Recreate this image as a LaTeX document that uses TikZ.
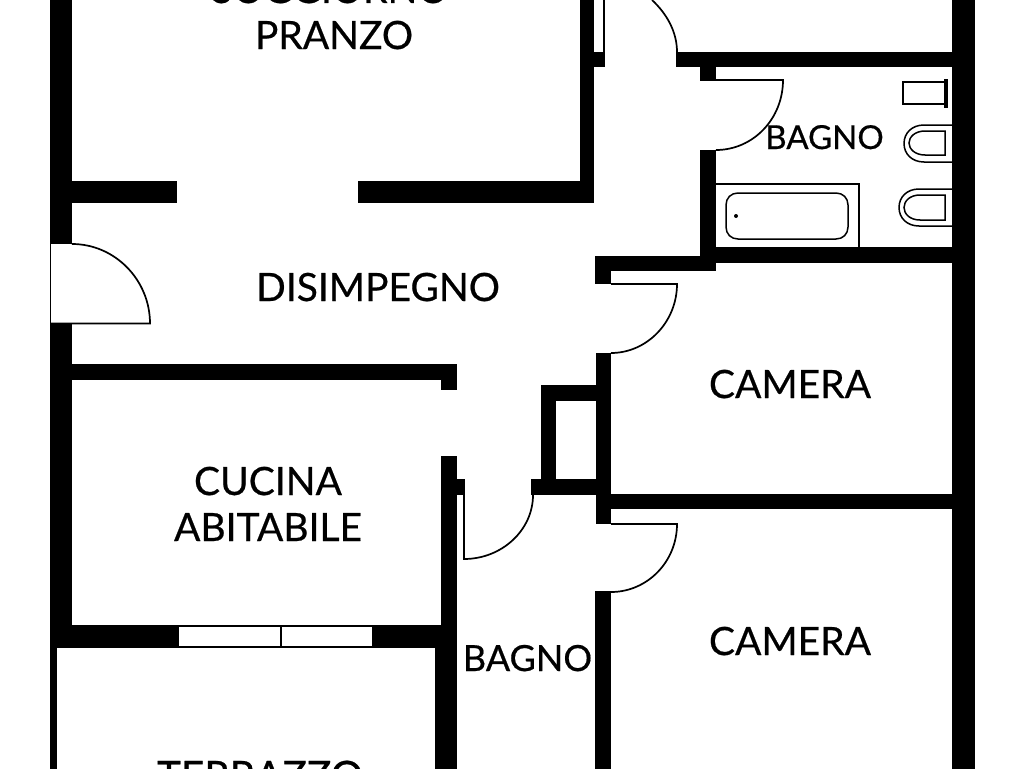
\documentclass[tikz,border=0pt]{standalone}
\usepackage{fontspec}
\setmainfont{Lato}[FakeBold=0.5]
\tikzset{
  wall/.style={fill=black,draw=none},
  thin line/.style={draw=black,line width=1.5pt,fill=none},
  door/.style={draw=black,line width=1.7pt,fill=none},
  label/.style={anchor=base,inner sep=0pt,font=\fontsize{39}{39}\selectfont},
  small label/.style={anchor=base,inner sep=0pt,font=\fontsize{33}{33}\selectfont},
}
\begin{document}
\begin{tikzpicture}[x=1pt,y=-1pt]
\useasboundingbox (0,0) rectangle (1024,768);
\clip (0,0) rectangle (1024,768);
\fill[white] (0,0) rectangle (1024,768);
% walls
\fill[wall] (50,0) rectangle (72,244);
\fill[wall] (50,324) rectangle (72,648);
\fill[wall] (49.5,648) rectangle (57,770);
\fill[wall] (72,181) rectangle (177,203);
\fill[wall] (358,181) rectangle (594,203);
\fill[wall] (580,0) rectangle (594,203);
\fill[wall] (594,52) rectangle (605,67);
\fill[wall] (676,52) rectangle (952,67);
\fill[wall] (952,0) rectangle (975,770);
\fill[wall] (700,67) rectangle (716,80);
\fill[wall] (700,150) rectangle (716,271);
\fill[wall] (716,247) rectangle (952,263);
\fill[wall] (595,256) rectangle (716,271);
\fill[wall] (595,256) rectangle (611,284);
\fill[wall] (596,353) rectangle (611,524);
\fill[wall] (611,494) rectangle (952,509);
\fill[wall] (595,591) rectangle (611,770);
\fill[wall] (541,385) rectangle (596,400.5);
\fill[wall] (541,385) rectangle (556,480);
\fill[wall] (531,479) rectangle (596,495);
\fill[wall] (72,364) rectangle (457,380);
\fill[wall] (441,364) rectangle (457,390);
\fill[wall] (441,456) rectangle (457,770);
\fill[wall] (435,648) rectangle (457,770);
\fill[wall] (457,479) rectangle (465,495);
\fill[wall] (50,625) rectangle (178,648);
\fill[wall] (373,625) rectangle (457,648);
% window
\draw[thin line] (178,626) rectangle (373,647);
\draw[thin line] (281,626) -- (281,647);
% doors
\draw[draw=black,line width=0.8pt] (50,244) -- (50,324);
\draw[door] (50,323.5) -- (150,323.5) .. controls (150,280) and (115,244) .. (72,244);
\draw[door] (604,0) -- (604,52);
\draw[door] (677,52) .. controls (677,32) and (667,14) .. (652,0);
\draw[door] (700,80) -- (783,80) .. controls (783,119) and (753,150) .. (716,150);
\draw[door] (611,284) -- (677,284) .. controls (677,322) and (647,353) .. (611,353);
\draw[door] (464,495) -- (464,559) .. controls (502,559) and (533,530) .. (533,495);
\draw[door] (611,524) -- (677,524) .. controls (677,562) and (647,592) .. (611,592);
% bathroom fixtures
\draw[thin line] (716,184) -- (859,184) -- (859,247);
\draw[thin line] (738,193) -- (836,193) .. controls (843,193) and (848,198) .. (848,205) -- (848,227) .. controls (848,234) and (843,239) .. (836,239) -- (738,239) .. controls (731,239) and (726,234) .. (726,227) -- (726,205) .. controls (726,198) and (731,193) .. (738,193) -- cycle;
\fill (736,216) circle (2);
\draw[thin line] (945,82) -- (903,82) -- (903,104) -- (945,104);
\fill[wall] (943.5,79) rectangle (947.5,108);
\draw[thin line] (952,125) -- (924,125) .. controls (912,125) and (904,133) .. (904,143.5) .. controls (904,154) and (912,162) .. (924,162) -- (952,162);
\draw[thin line] (945,131) -- (925,131) .. controls (915,131) and (909,137) .. (909,143) .. controls (909,149) and (915,155) .. (925,155) -- (945,155) -- cycle;
\draw[thin line] (952,189) -- (919,189) .. controls (907,189) and (899,197) .. (899,207.5) .. controls (899,218) and (907,226) .. (919,226) -- (952,226);
\draw[thin line] (945,195) -- (920,195) .. controls (910,195) and (904,201) .. (904,207.5) .. controls (904,214) and (910,220) .. (920,220) -- (945,220) -- cycle;
% labels
\node[label] (soggiorno) at (330,3) {SOGGIORNO};
\node[label] (pranzo) at (334,49) {PRANZO};
\node[label] (disimpegno) at (378,301) {DISIMPEGNO};
\node[label] (cucina) at (268,495) {CUCINA};
\node[label] (abitabile) at (268,541) {ABITABILE};
\node[label] (camera1) at (790,398) {CAMERA};
\node[label] (camera2) at (790,655) {CAMERA};
\node[label,font=\fontsize{40.5}{40.5}\selectfont] (terrazzo) at (260,790) {TERRAZZO};
\node[small label] (bagno1) at (824.5,149) {BAGNO};
\node[small label,font=\fontsize{36}{36}\selectfont] (bagno2) at (527.5,671) {BAGNO};
\end{tikzpicture}
\end{document}
